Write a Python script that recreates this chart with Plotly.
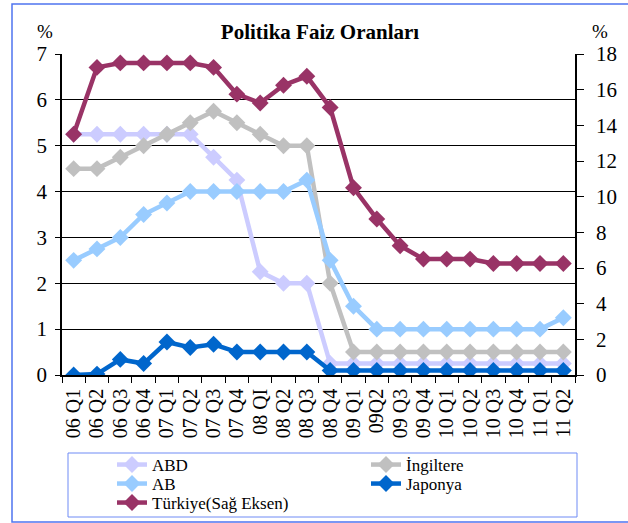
import plotly.graph_objects as go

categories = ["06 Q1", "06 Q2", "06 Q3", "06 Q4", "07 Q1", "07 Q2", "07 Q3", "07 Q4",
              "08 QI", "08 Q2", "08 Q3", "08 Q4", "09 Q1", "09Q2", "09 Q3", "09 Q4",
              "10 Q1", "10 Q2", "10 Q3", "10 Q4", "11 Q1", "11 Q2"]

abd = [5.25, 5.25, 5.25, 5.25, 5.25, 5.25, 4.75, 4.25, 2.25, 2.0, 2.0, 0.25,
       0.25, 0.25, 0.25, 0.25, 0.25, 0.25, 0.25, 0.25, 0.25, 0.25]
ingiltere = [4.5, 4.5, 4.75, 5.0, 5.25, 5.5, 5.75, 5.5, 5.25, 5.0, 5.0, 2.0,
             0.5, 0.5, 0.5, 0.5, 0.5, 0.5, 0.5, 0.5, 0.5, 0.5]
ab = [2.5, 2.75, 3.0, 3.5, 3.75, 4.0, 4.0, 4.0, 4.0, 4.0, 4.25, 2.5,
      1.5, 1.0, 1.0, 1.0, 1.0, 1.0, 1.0, 1.0, 1.0, 1.25]
japonya = [0.0, 0.02, 0.34, 0.25, 0.72, 0.6, 0.67, 0.5, 0.5, 0.5, 0.5, 0.1,
           0.1, 0.1, 0.1, 0.1, 0.1, 0.1, 0.1, 0.1, 0.1, 0.1]
turkiye = [13.5, 17.25, 17.5, 17.5, 17.5, 17.5, 17.25, 15.75, 15.25, 16.25, 16.75, 15.0,
           10.5, 8.75, 7.25, 6.5, 6.5, 6.5, 6.25, 6.25, 6.25, 6.25]

left_ticks = [0, 1, 2, 3, 4, 5, 6, 7]
right_ticks = [0, 2, 4, 6, 8, 10, 12, 14, 16, 18]

SERIF = "Liberation Serif"

W, H = 628, 523
L, R, T, B = 62, 53, 54, 148
pw, ph = W - L - R, H - T - B


def px_x(x):
    return (x - L) / pw


def px_y(y):
    return (H - B - y) / ph


# name, values, colour, axis, legend id, legend text x (px), legend row y (px)
series = [
    ("ABD", abd, "#CCCCFF", "y", "legend", 112, 465),
    ("İngiltere", ingiltere, "#C0C0C0", "y", "legend2", 366, 465),
    ("AB", ab, "#99CCFF", "y", "legend3", 112, 484),
    ("Japonya", japonya, "#0066CC", "y", "legend4", 366, 484),
    ("Türkiye(Sağ Eksen)", turkiye, "#993366", "y2", "legend5", 112, 503),
]

fig = go.Figure()
legends = {}
for name, vals, color, axis, leg, lx, ly in series:
    fig.add_trace(go.Scatter(
        x=categories, y=vals, name=name, yaxis=axis, mode="lines+markers",
        line=dict(color=color, width=4.5),
        marker=dict(symbol="diamond", size=13, color=color),
        legend=leg,
    ))
    legends[leg] = dict(
        xref="container", yref="container",
        x=lx / W, y=1 - ly / H, xanchor="left", yanchor="middle",
        orientation="v", bgcolor="rgba(0,0,0,0)", borderwidth=0,
        font=dict(size=17, family=SERIF, color="black"),
    )

fig.update_layout(
    width=W, height=H,
    margin=dict(l=L, r=R, t=T, b=B, autoexpand=False),
    paper_bgcolor="white", plot_bgcolor="white",
    font=dict(family=SERIF, size=18, color="black"),
    showlegend=True,
    title=dict(text="<b>Politika Faiz Oranları</b>", x=320 / W, xanchor="center",
               y=1 - 32 / H, yanchor="middle", font=dict(size=21, family=SERIF)),
    xaxis=dict(
        type="category", tickson="boundaries", ticks="outside", ticklen=6,
        tickcolor="black", tickangle=-90, showline=True, linecolor="black",
        linewidth=1.5, showgrid=False, tickfont=dict(size=20, family=SERIF),
        range=[-0.5, len(categories) - 0.5], ticklabelstandoff=4,
        tickmode="array", tickvals=categories, ticktext=categories,
        automargin=False,
    ),
    yaxis=dict(
        range=[0, 7], tickvals=left_ticks, ticks="outside", ticklen=5,
        tickcolor="black", showline=True, linecolor="black", linewidth=1.5,
        showgrid=True, gridcolor="black", gridwidth=1, zeroline=False,
        tickfont=dict(size=21, family=SERIF), ticklabelstandoff=4,
        automargin=False,
    ),
    yaxis2=dict(
        range=[0, 18], tickvals=right_ticks, overlaying="y", side="right",
        ticks="outside", ticklen=7, tickcolor="black", showline=True,
        linecolor="black", linewidth=1.5, showgrid=False, zeroline=False,
        tickfont=dict(size=21, family=SERIF), ticklabelstandoff=8,
        automargin=False,
    ),
    annotations=[
        dict(text="%", xref="paper", yref="paper", x=px_x(45), y=px_y(31),
             xanchor="center", yanchor="middle", showarrow=False,
             font=dict(size=19, family=SERIF)),
        dict(text="%", xref="paper", yref="paper", x=px_x(600), y=px_y(32),
             xanchor="center", yanchor="middle", showarrow=False,
             font=dict(size=19, family=SERIF)),
    ],
    shapes=[
        dict(type="rect", xref="paper", yref="paper",
             x0=px_x(12), x1=px_x(640), y0=px_y(522), y1=px_y(4),
             line=dict(color="#4F74F0", width=1.5), layer="below"),
        dict(type="rect", xref="paper", yref="paper",
             x0=px_x(68), x1=px_x(577), y0=px_y(517), y1=px_y(453),
             line=dict(color="#6E8BF5", width=1), layer="below"),
    ],
    **legends,
)

fig.write_html(
    "out.html",
    config={"displayModeBar": False},
    post_script="document.body.style.margin='0';document.body.style.overflow='hidden';",
)
